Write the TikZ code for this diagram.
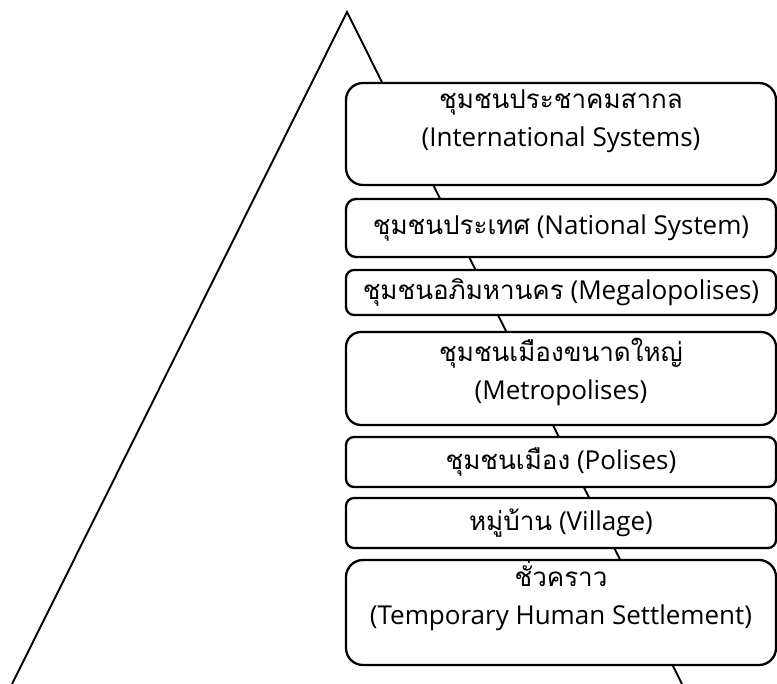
\documentclass[tikz,border=0pt]{standalone}
\usepackage{fontspec}
\setmainfont{Open Sans}
\newfontfamily\thaifont[Script=Thai]{Loma}
\usetikzlibrary{positioning}

\begin{document}
\begin{tikzpicture}[x=1pt,y=1pt]
\tikzstyle{tier}=[draw=black, line width=2.3pt, fill=white, minimum width=430pt, inner sep=0pt, font=\fontsize{26}{38}\selectfont, align=center]
\tikzstyle{tiertext}=[inner sep=0pt, font=\fontsize{26}{38}\selectfont, align=center]
\useasboundingbox (0,0) rectangle (777,-684);
% pyramid
\coordinate (apex) at (347,-12);
\coordinate (baseL) at (12,-684);
\coordinate (baseR) at (682,-684);
\draw [black, line width=1.9pt] (baseL) -- (apex) -- (baseR);
% tiers, top to bottom
\node [tier, rounded corners=17pt, minimum height=102pt] (intl) at (561,-134) {};
\node [tiertext] (intltext) at (561,-121) {{\thaifont ชุมชนประชาคมสากล}\\(International Systems)};
\node [tier, rounded corners=10pt, minimum height=58pt] (natl) at (561,-228) {{\thaifont ชุมชนประเทศ} (National System)};
\node [tier, rounded corners=8pt, minimum height=45pt] (mega) at (561,-292.5) {{\thaifont ชุมชนอภิมหานคร} (Megalopolises)};
\node [tier, rounded corners=15pt, minimum height=93pt] (metro) at (561,-378.5) {};
\node [tiertext] (metrotext) at (561,-371.5) {{\thaifont ชุมชนเมืองขนาดใหญ่}\\(Metropolises)};
\node [tier, rounded corners=8pt, minimum height=50pt] (polis) at (561,-462) {{\thaifont ชุมชนเมือง} (Polises)};
\node [tier, rounded corners=8pt, minimum height=50pt] (village) at (561,-523) {{\thaifont หมู่บ้าน} (Village)};
\node [tier, rounded corners=17pt, minimum height=105pt] (temp) at (561,-612.5) {};
\node [tiertext] (temptext) at (561,-595) {{\thaifont ชั่วคราว}\\(Temporary Human Settlement)};
\end{tikzpicture}
\end{document}
